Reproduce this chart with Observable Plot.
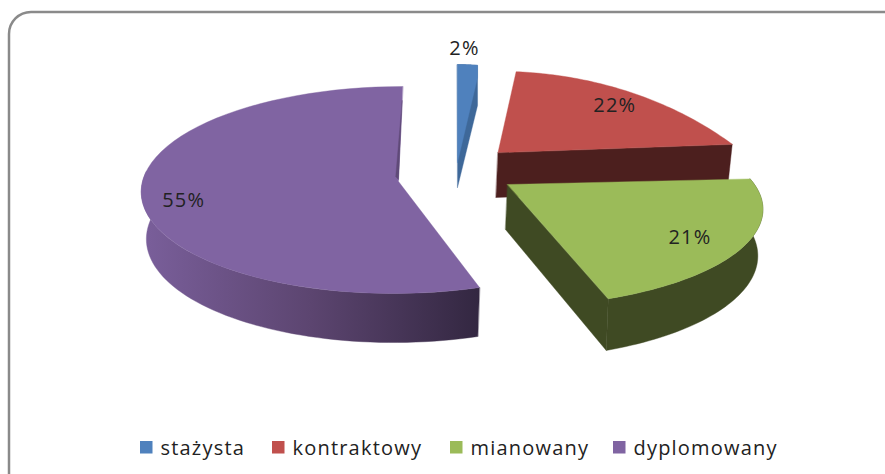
<!DOCTYPE html>
<html><head><meta charset="utf-8">
<style>html,body{margin:0;padding:0;background:#fff;overflow:hidden}</style>
<script src="https://cdn.jsdelivr.net/npm/d3@7"></script>
<script src="https://cdn.jsdelivr.net/npm/@observablehq/plot@0.6"></script>
</head><body>
<script>
// Data
const categories = ["stażysta", "kontraktowy", "mianowany", "dyplomowany"];
const shares = [2, 22, 21, 55];
const topColors = ["#4f81bd", "#c0504d", "#9bbb59", "#8064a2"];
const faceColors = ["#3e6899", "#4c1f1e", "#3f4a23", "#332741"];

// Projection of each exploded slice: c = apex, r = radii, q = perspective, k = skew, d = depth
const view = [
  {cx: 457, cy: 162, rx: 160, ry: 98, q: 0, k: 0, d: 25, lab: [-3, -16]},
  {cx: 497.5, cy: 152, rx: 245, ry: 138, q: 0.7, k: 0, d: 45, lab: [-4, 17]},
  {cx: 507, cy: 184, rx: 247, ry: 91, q: 0.255, k: 0, d: 45, lab: [-56, -7]},
  {cx: 398, cy: 181, rx: 256, ry: 102.8, q: 0.082, k: 0.045, d: 47, lab: [42, 3]}
];

const W = 885, H = 474;
let cum = 0;
const slices = categories.map((name, i) => {
  const a0 = cum / 100 * 360; cum += shares[i];
  return {name, share: shares[i], a0, a1: cum / 100 * 360, top: topColors[i], face: faceColors[i], v: view[i]};
});

function pt(v, deg, bottom = false) {
  const t = deg * Math.PI / 180, X = Math.sin(t), Z = Math.cos(t), s = 1 / (1 + v.q * Z);
  const dy = v.ry * Z * s;
  const f = bottom ? 0.98 : 1;
  const x = v.cx + v.rx * X * s * f + v.k * dy;
  const y = v.cy - dy + (bottom ? v.d * Math.sqrt(s) : 0);
  return {x, y};
}
const apex = (v, bottom = false) => ({x: v.cx - (bottom ? 2 : 0), y: v.cy + (bottom ? v.d : 0)});
const arc = (v, a, b, bottom = false) => d3.range(0, 61).map(i => pt(v, a + (b - a) * i / 60, bottom));
const poly = (points, fill) => Plot.line(points, {x: "x", y: "y", fill, stroke: fill, strokeWidth: 0.4, curve: "linear-closed"});

const [blue, red, green, purple] = slices;

// Blue: whole silhouette in the darker tone with the lighter top laid on it
const blueFace = [...arc(blue.v, blue.a0, blue.a1), {x: pt(blue.v, blue.a1).x, y: blue.v.cy - 57}, {x: blue.v.cx, y: blue.v.cy + blue.v.d}];
const blueTop = [...arc(blue.v, blue.a0, blue.a1), {x: pt(blue.v, blue.a1).x, y: blue.v.cy - 85}, apex(blue.v)];

// Red and green: cut face, outer wall, top surface
const cutFace = s => [apex(s.v), pt(s.v, s.a1), pt(s.v, s.a1, true), apex(s.v, true)];
const topFace = s => [apex(s.v), ...arc(s.v, s.a0, s.a1)];
const wall = (s, a, b) => [...arc(s.v, a, b), ...arc(s.v, b, a, true)];

// Thin sliver of purple's inner wall along its start edge
const pS = pt(purple.v, 360), pA = apex(purple.v);
const lerp = (a, b, t) => ({x: a.x + (b.x - a.x) * t, y: a.y + (b.y - a.y) * t});
const sliver = [lerp(pS, pA, 0.15), {x: lerp(pS, pA, 0.95).x - 3, y: lerp(pS, pA, 0.95).y}, lerp(pS, pA, 0.98), lerp(pS, pA, 0.5)];

// Labels
const labels = slices.map(s => {
  const p = pt(s.v, (s.a0 + s.a1) / 2);
  return {x: p.x + s.v.lab[0], y: p.y + s.v.lab[1], text: s.share + "%"};
});

// Legend
const legendX = [140, 272, 450, 613];
const legend = categories.map((name, i) => ({name, x: legendX[i], color: topColors[i]}));

const font = "Open Sans";
const chart = Plot.plot({
  width: W, height: H,
  margin: 0,
  x: {domain: [0, W], axis: null},
  y: {domain: [H, 0], axis: null},
  style: {background: "#fff", color: "#222", letterSpacing: "1.2px"},
  marks: [
    () => {
      const defs = document.createElementNS("http://www.w3.org/2000/svg", "defs");
      defs.innerHTML = `<linearGradient id="purpleWall" x1="0" x2="1" y1="0" y2="0">
        <stop offset="0" stop-color="#7a5f9b"/><stop offset="0.5" stop-color="#5c4570"/><stop offset="1" stop-color="#332741"/></linearGradient>`;
      return defs;
    },
    Plot.rect([{x1: 9, x2: W + 40, y1: 12, y2: H + 40}], {x1: "x1", x2: "x2", y1: "y1", y2: "y2", rx: 22, fill: "none", stroke: "#8a8a8a", strokeWidth: 2.5, clip: true}),

    // blue
    poly(blueFace, blue.face), poly(blueTop, blue.top),
    // red
    poly(cutFace(red), red.face), poly(topFace(red), red.top),
    // green
    poly(wall(green, green.a0, green.a1), green.face), poly(cutFace(green), green.face), poly(topFace(green), green.top),
    // purple
    poly(wall(purple, purple.a0, 276), "url(#purpleWall)"),
    poly(topFace(purple), purple.top),
    poly(sliver, "#5f4a78"),

    Plot.text(labels, {x: "x", y: "y", text: "text", fontSize: 20, fontFamily: font, fill: "#222"}),

    Plot.rect(legend, {x1: "x", x2: d => d.x + 12.5, y1: () => 441, y2: () => 453.5, fill: "color"}),
    Plot.text(legend, {x: d => d.x + 20, y: () => 448, text: "name", textAnchor: "start", fontSize: 20, fontFamily: font, fill: "#222"})
  ]
});
document.body.append(chart);
</script>
</body></html>
